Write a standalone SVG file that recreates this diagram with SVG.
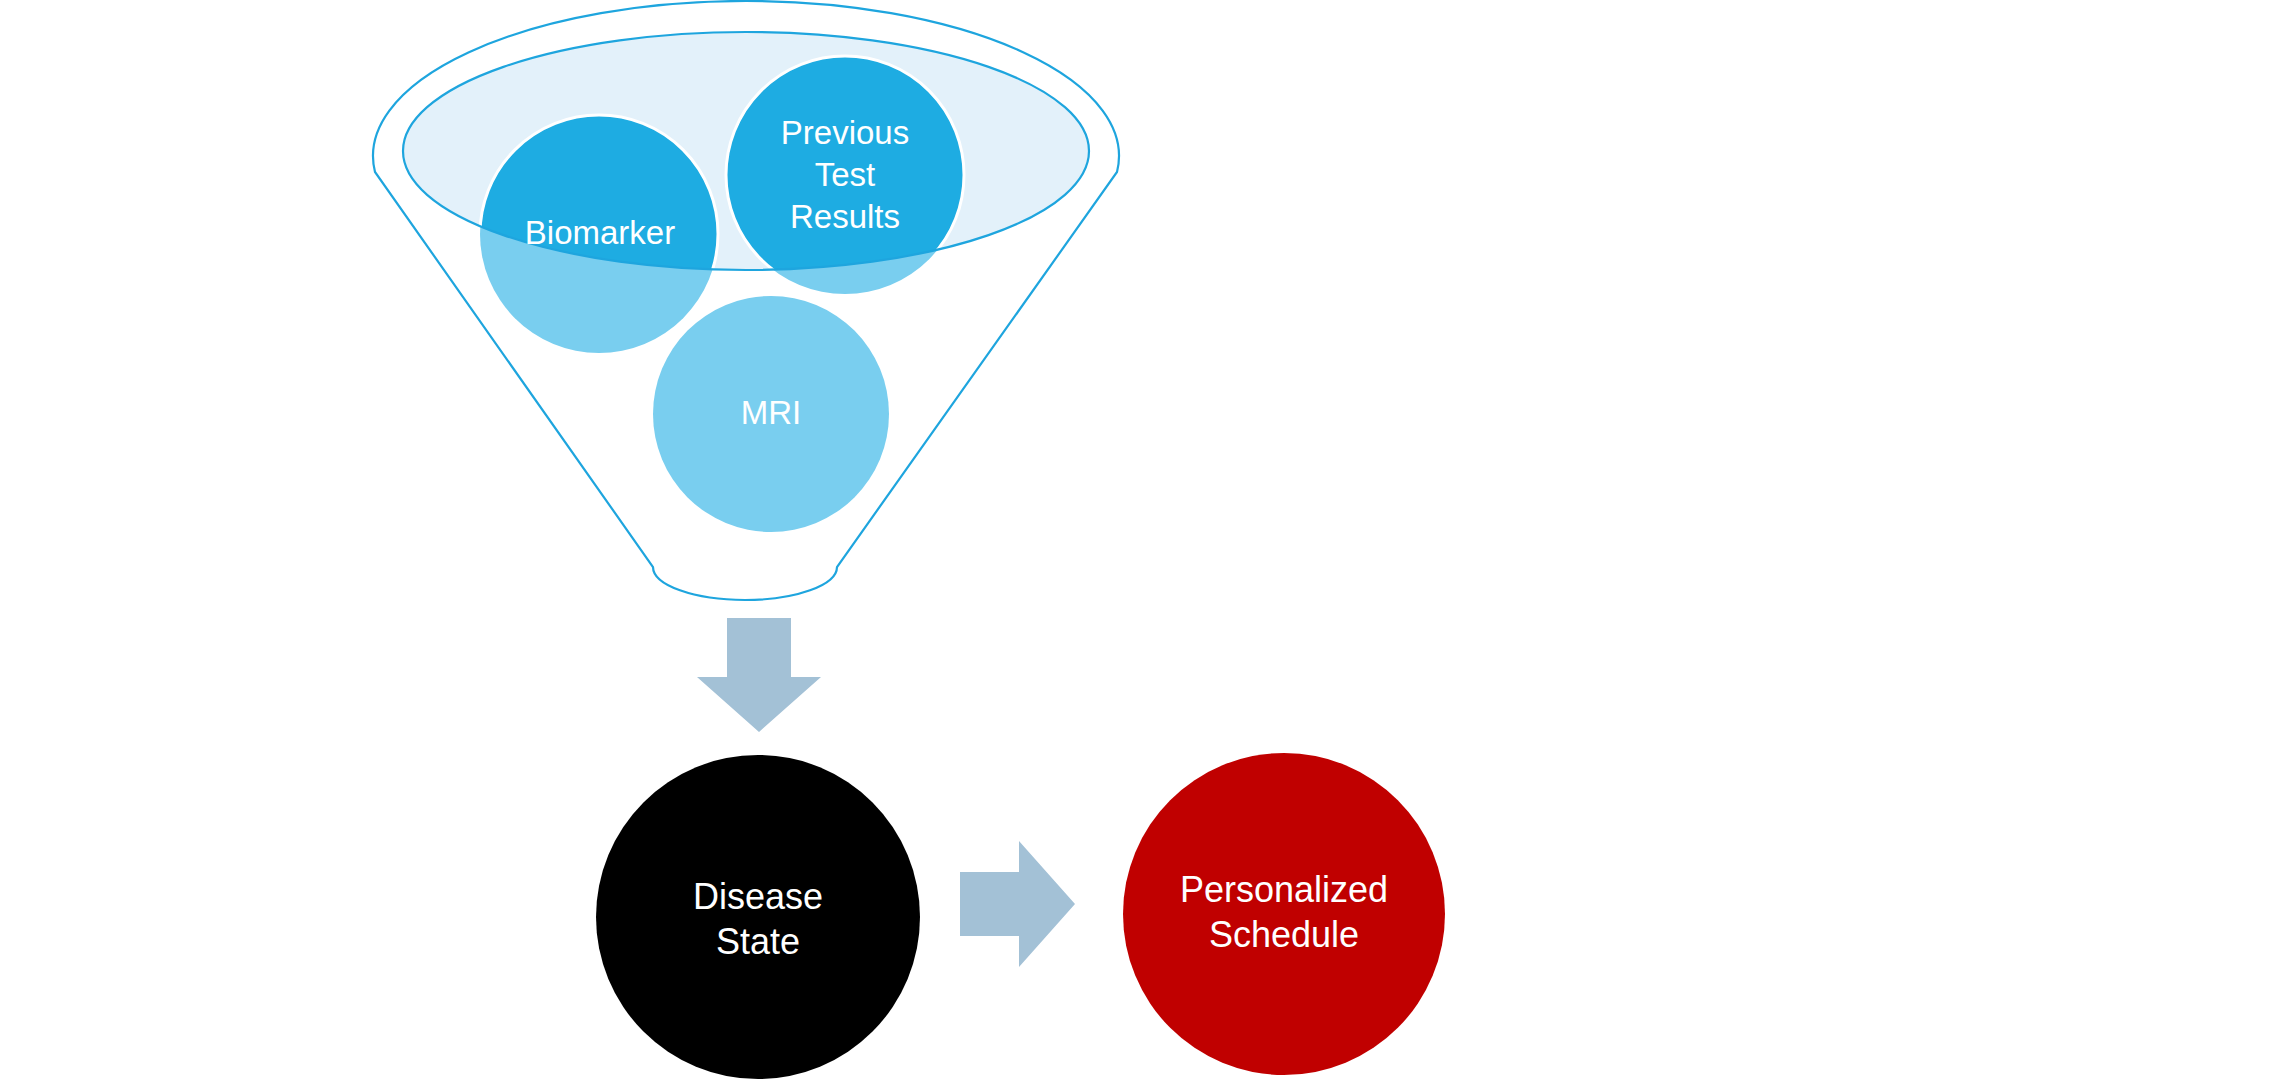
<svg xmlns="http://www.w3.org/2000/svg" width="2287" height="1083" viewBox="0 0 2287 1083">
<style>
.lbl{font-family:"Liberation Sans",Arial,sans-serif;fill:#ffffff;text-anchor:middle}
.top{font-size:33px}
.big{font-size:36px}
.outline{fill:none;stroke:#1EA5DE;stroke-width:2.2}
.light{fill:#79CEEF}
.dark{fill:#1EACE2;stroke:#ffffff;stroke-width:3}
.arrow{fill:#A3C1D6}
</style>
<defs>
<clipPath id="mouth"><ellipse cx="746" cy="151" rx="343" ry="119"/></clipPath>
</defs>
<rect width="2287" height="1083" fill="#ffffff"/>
<g id="funnel">
<path class="outline" d="M375,172 A373,155 0 1 1 1117,172 L837,567 A92,33 0 0 1 653,567 Z"/>
<ellipse cx="746" cy="151" rx="343" ry="119" fill="#E3F1FA"/>
</g>
<g id="node-biomarker">
<circle class="light" cx="599" cy="234" r="119"/>
<circle class="dark" cx="599" cy="234" r="119" clip-path="url(#mouth)"/>
</g>
<g id="node-previous">
<circle class="light" cx="845" cy="175" r="119"/>
<circle class="dark" cx="845" cy="175" r="119" clip-path="url(#mouth)"/>
</g>
<g id="funnel-rim">
<ellipse class="outline" cx="746" cy="151" rx="343" ry="119"/>
</g>
<g id="labels-top">
<text class="lbl top" x="600" y="244">Biomarker</text>
<text class="lbl top" x="845" y="144">Previous</text>
<text class="lbl top" x="845" y="186">Test</text>
<text class="lbl top" x="845" y="228">Results</text>
</g>
<g id="node-mri">
<circle class="light" cx="771" cy="414" r="118"/>
<text class="lbl top" x="771" y="424">MRI</text>
</g>
<g id="connectors">
<polygon class="arrow" points="727,618 791,618 791,677 821,677 759,732 697,677 727,677"/>
<polygon class="arrow" points="960,872 1019,872 1019,841 1075,904 1019,967 1019,936 960,936"/>
</g>
<g id="node-disease">
<circle cx="758" cy="917" r="162" fill="#000000"/>
<text class="lbl big" x="758" y="909">Disease</text>
<text class="lbl big" x="758" y="954">State</text>
</g>
<g id="node-schedule">
<circle cx="1284" cy="914" r="161" fill="#C00000"/>
<text class="lbl big" x="1284" y="902">Personalized</text>
<text class="lbl big" x="1284" y="947">Schedule</text>
</g>
</svg>
